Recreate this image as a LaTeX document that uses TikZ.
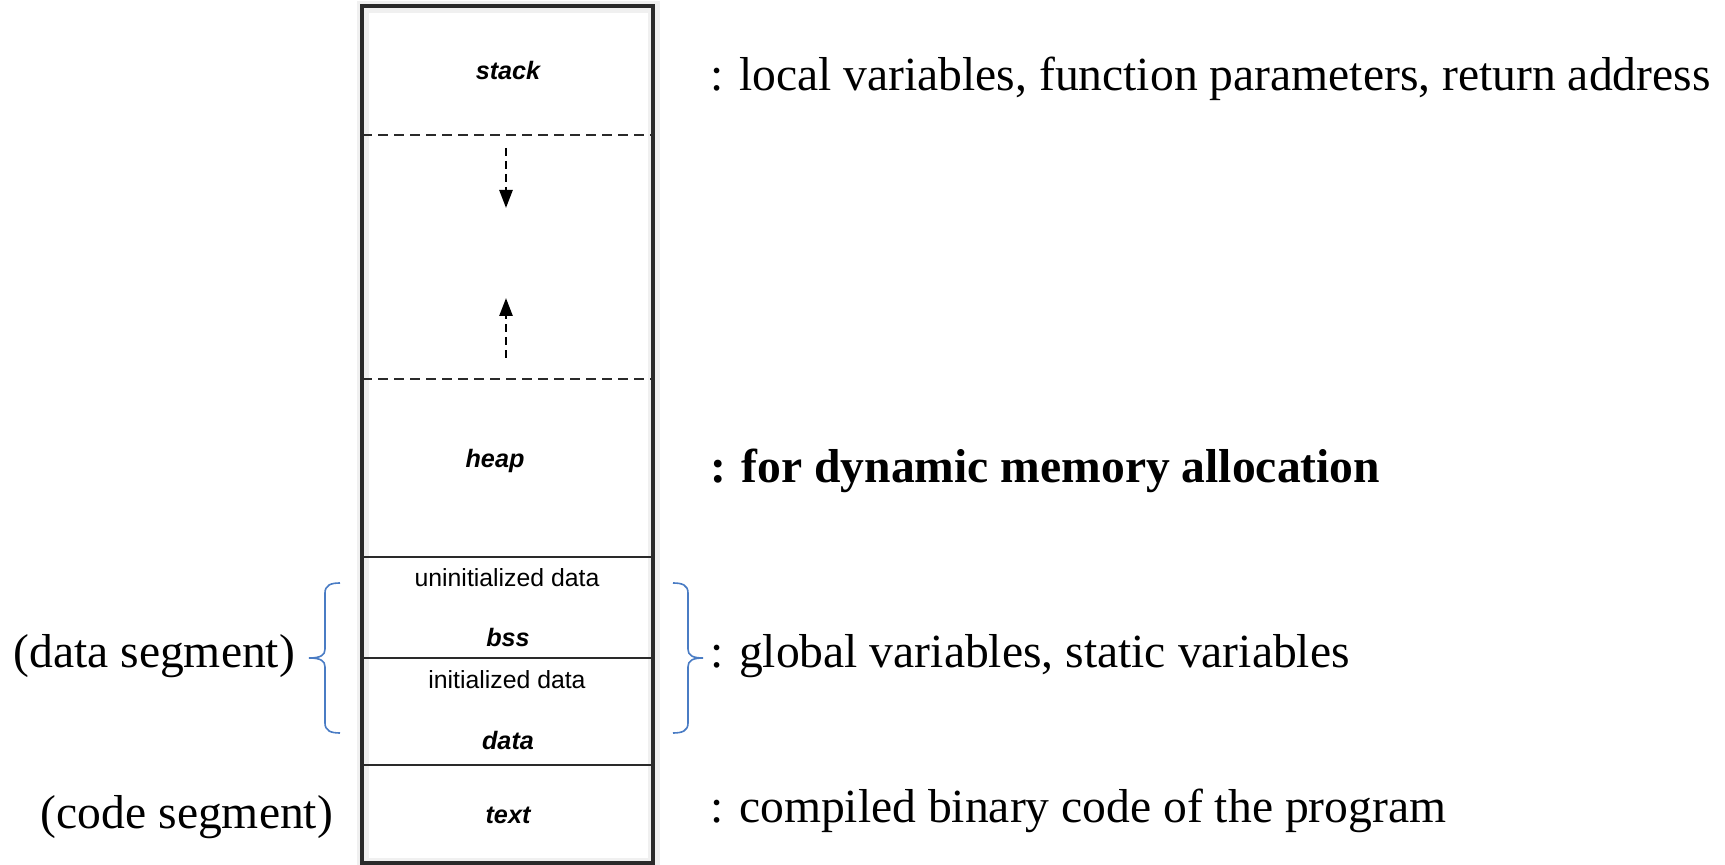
\documentclass[tikz,border=0pt]{standalone}
\usepackage{fontspec}
\setmainfont{Liberation Serif}
\setsansfont{Liberation Sans}
\usetikzlibrary{arrows.meta}
\definecolor{boxgray}{HTML}{2A2A2A}
\definecolor{braceblue}{HTML}{4A7CC4}

\begin{document}
\begin{tikzpicture}[x=0.5pt,y=-0.5pt,every node/.style={inner sep=0pt,outer sep=0pt},
						seglbl/.style={font=\sffamily\fontsize{12.4}{14}\selectfont,anchor=base},
						segname/.style={font=\sffamily\bfseries\itshape\fontsize{12.6}{14}\selectfont,anchor=base},
						note/.style={font=\fontsize{23.8}{28}\selectfont,anchor=base west},
						side/.style={font=\fontsize{23.8}{28}\selectfont,anchor=base east},
						divider/.style={line width=1.3pt,color=boxgray},
						growarrow/.style={line width=1.3pt,color=black,dash pattern=on 4pt off 2.5pt,-{Triangle[length=9pt,width=6.5pt]}},
						bracket/.style={line width=0.8pt,color=braceblue}
						]
						\useasboundingbox (0,0) rectangle (1725,865);
						% soft halo round the box
						\draw[line width=6pt,color=gray,opacity=0.12] (363,7) rectangle (654,864);
						% memory layout box
						\draw[line width=1.6pt,color=boxgray] (362,6) rectangle (653,863);
						\draw[divider,dash pattern=on 5pt off 3pt] (362,135) -- (653,135);
						\draw[divider,dash pattern=on 5pt off 3pt] (362,379) -- (653,379);
						\draw[divider] (362,557) -- (653,557);
						\draw[divider] (362,658) -- (653,658);
						\draw[divider] (362,765) -- (653,765);
						\node[segname] (stack) at (508,80) {stack};
						\node[segname] (heap) at (495,468) {heap};
						\node[seglbl] (uninit) at (507,587) {uninitialized data};
						\node[segname] (bss) at (508,647) {bss};
						\node[seglbl] (init) at (507,689) {initialized data};
						\node[segname] (data) at (508,750) {data};
						\node[segname] (text) at (508,823) {text};
						% growth arrows
						\coordinate (downtail) at (506,148);
						\coordinate (downhead) at (506,208);
						\coordinate (uptail) at (506,358);
						\coordinate (uphead) at (506,298);
						\draw[growarrow] (downtail) -- (downhead);
						\draw[growarrow] (uptail) -- (uphead);
						% braces
						\draw[bracket] (340,583) .. controls (331,583) and (325,585) .. (325,593) -- (325,649) .. controls (325,655) and (321,658) .. (309,658)
							.. controls (321,658) and (325,661) .. (325,667) -- (325,723) .. controls (325,731) and (331,733) .. (340,733);
						\draw[bracket] (673,583) .. controls (682,583) and (688,585) .. (688,593) -- (688,649) .. controls (688,655) and (692,658) .. (703,658)
							.. controls (692,658) and (688,661) .. (688,667) -- (688,723) .. controls (688,731) and (682,733) .. (673,733);
						% descriptions
						\node[note] (stacknote) at (710,91) {: local variables, function parameters, return address};
						\node[note,font=\bfseries\fontsize{23.8}{28}\selectfont] (heapnote) at (710,483) {: for dynamic memory allocation};
						\node[note] (datanote) at (710,668) {: global variables, static variables};
						\node[note] (textnote) at (710,822) {: compiled binary code of the program};
						\node[side] (dataseg) at (295,668) {(data segment)};
						\node[side] (codeseg) at (333,828) {(code segment)};
						\end{tikzpicture}
\end{document}
